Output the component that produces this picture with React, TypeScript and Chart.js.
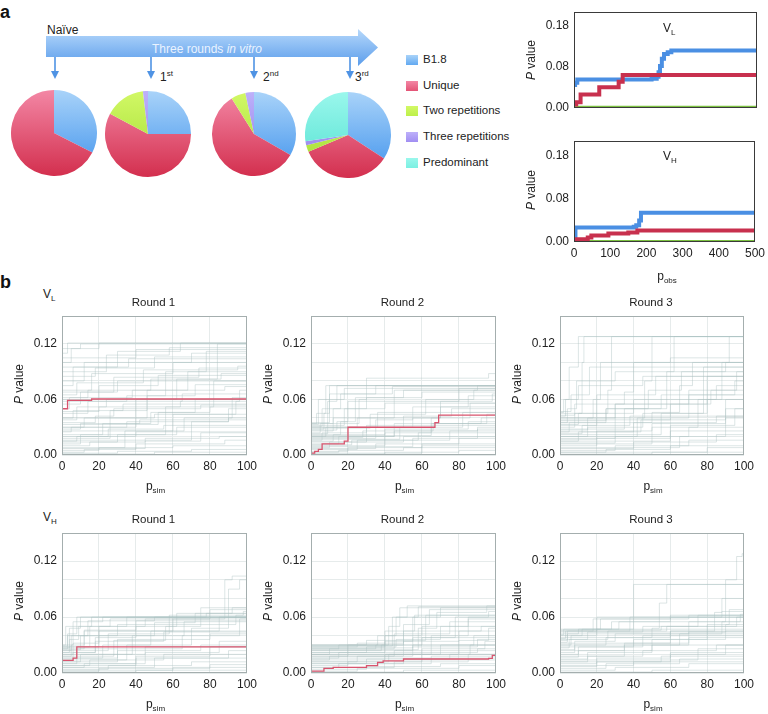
import React, { useEffect, useRef } from "react";
import { Chart, registerables } from "chart.js";
Chart.register(...registerables);

const FONT = '"Liberation Sans", Arial, Helvetica, sans-serif';

// ---------- Panel a: pies ----------
const pieCategories = ["B1.8", "Unique", "Two repetitions", "Three repetitions", "Predominant"];
const pieNaive = [32.5, 67.5, 0, 0, 0];
const pieRound1 = [25, 57.8, 15.3, 1.9, 0];
const pieRound2 = [33.3, 57.8, 5.6, 3.3, 0];
const pieRound3 = [34.2, 34.4, 2.6, 1.5, 27.3];
const pieTop = ["#a9d3f9", "#f387a5", "#d2f866", "#bdb0fa", "#9af7ec"];
const pieBottom = ["#3f92ec", "#d32f4e", "#a0dc30", "#8c7ae8", "#4fe0d0"];
const legendSwatch = ["#62a9f1", "#e45476", "#bdf04a", "#a18ef2", "#7bf0e2"];

// ---------- Panel a: observed P value vs p_obs ----------
const aYTickValues = [0, 0.09, 0.18];
const aYTickLabels = ["0.00", "0.08", "0.18"];
const aXTicks = [0, 100, 200, 300, 400, 500];
// flattened [x, y, x, y, ...] step breakpoints
const obsVL_B18 = [0, 0.05, 3, 0.055, 9, 0.062, 212, 0.064, 226, 0.068, 231, 0.078, 235, 0.092, 240, 0.108, 246, 0.118, 256, 0.122, 266, 0.126];
const obsVL_Unique = [0, 0.007, 6, 0.012, 18, 0.029, 69, 0.045, 122, 0.057, 133, 0.072];
const obsVL_Two = [0, 0.001];
const obsVH_B18 = [0, 0.012, 4, 0.03, 165, 0.032, 172, 0.035, 180, 0.045, 185, 0.061];
const obsVH_Unique = [0, 0.0055, 38, 0.0095, 48, 0.0135, 95, 0.0176, 150, 0.02, 175, 0.024];
const obsVH_Two = [0, 0.001];

// ---------- Panel b: simulated (grey) and observed (red) ----------
const bYLabelValues = [0, 0.06, 0.12];
const obsVL_R1 = [0, 0.05, 3, 0.059, 16, 0.0605];
const obsVL_R2 = [0, 0.002, 2, 0.004, 4, 0.006, 6, 0.012, 18, 0.015, 20, 0.03, 67, 0.035, 69, 0.043];
const obsVL_R3 = [0, 0.0005];
const obsVH_R1 = [0, 0.0136, 6, 0.016, 8, 0.028];
const obsVH_R2 = [0, 0.002, 7, 0.005, 12, 0.006, 30, 0.008, 36, 0.0115, 39, 0.013, 50, 0.015, 96, 0.0157, 98, 0.019];
const obsVH_R3 = [0, 0.0005];

const simVL_R1 = [
  [0, 0.002, 30, 0.004, 70, 0.006],
  [0, 0.005, 20, 0.008, 60, 0.01],
  [0, 0.01, 15, 0.014, 45, 0.018, 85, 0.02],
  [0, 0.015, 8, 0.02, 40, 0.025],
  [0, 0.02, 25, 0.028, 55, 0.032],
  [0, 0.025, 5, 0.03, 35, 0.036, 90, 0.04],
  [0, 0.03, 12, 0.04, 50, 0.044],
  [0, 0.035, 18, 0.042, 28, 0.05, 75, 0.054],
  [0, 0.04, 6, 0.048, 33, 0.055],
  [0, 0.012, 10, 0.022, 22, 0.034, 48, 0.046, 80, 0.052],
  [0, 0.045, 14, 0.058, 65, 0.066],
  [0, 0.05, 4, 0.062, 38, 0.07, 88, 0.074],
  [0, 0.055, 10, 0.068, 30, 0.08],
  [0, 0.06, 20, 0.075, 52, 0.086],
  [0, 0.065, 8, 0.078, 44, 0.092, 95, 0.096],
  [0, 0.07, 16, 0.088, 60, 0.1],
  [0, 0.075, 6, 0.095, 36, 0.104],
  [0, 0.08, 12, 0.1, 70, 0.11],
  [0, 0.09, 24, 0.108, 58, 0.116],
  [0, 0.1, 5, 0.115, 20, 0.121],
  [0, 0.11, 3, 0.121],
  [0, 0.03, 40, 0.06, 62, 0.082, 84, 0.12],
  [0, 0.018, 26, 0.048, 46, 0.07, 68, 0.09],
  [0, 0.008, 34, 0.026, 66, 0.04, 92, 0.062],
  [0, 0.04, 46, 0.064, 56, 0.09, 78, 0.112],
  [0, 0.022, 56, 0.052, 82, 0.08],
  [0, 0.001, 50, 0.003],
  [0, 0.115, 10, 0.12],
  [0, 0.003, 12, 0.006, 40, 0.012, 88, 0.016],
  [0, 0.007, 45, 0.015, 75, 0.024],
  [0, 0.014, 30, 0.022, 62, 0.03],
  [0, 0.028, 10, 0.034, 42, 0.038],
  [0, 0.033, 52, 0.046, 72, 0.06],
  [0, 0.038, 8, 0.052, 24, 0.06],
  [0, 0.047, 20, 0.052, 64, 0.058, 96, 0.07],
  [0, 0.058, 35, 0.064, 72, 0.076],
  [0, 0.062, 14, 0.07, 48, 0.082, 86, 0.088],
  [0, 0.068, 28, 0.084, 74, 0.094],
  [0, 0.085, 18, 0.094, 50, 0.106],
  [0, 0.095, 30, 0.112, 64, 0.121],
  [0, 0.105, 40, 0.114],
  [0, 0.016, 70, 0.036, 90, 0.05],
  [0, 0.026, 60, 0.044, 94, 0.058],
];
const simVL_R2 = [
  [0, 0.001, 40, 0.003, 80, 0.005],
  [0, 0.004, 20, 0.008, 60, 0.012],
  [0, 0.008, 10, 0.014, 50, 0.02],
  [0, 0.012, 15, 0.02, 45, 0.026, 90, 0.03],
  [0, 0.016, 6, 0.024, 30, 0.032],
  [0, 0.02, 8, 0.03, 25, 0.04, 70, 0.046],
  [0, 0.024, 5, 0.034, 12, 0.05, 40, 0.056],
  [0, 0.028, 7, 0.045, 10, 0.066, 35, 0.075],
  [0, 0.03, 9, 0.058, 14, 0.075],
  [0, 0.032, 18, 0.05, 30, 0.062, 60, 0.068],
  [0, 0.034, 26, 0.06, 30, 0.083, 96, 0.088],
  [0, 0.018, 35, 0.038, 55, 0.052, 85, 0.064],
  [0, 0.01, 40, 0.024, 65, 0.034, 95, 0.044],
  [0, 0.006, 25, 0.016, 75, 0.026],
  [0, 0.026, 12, 0.04, 45, 0.07, 90, 0.075],
  [0, 0.022, 16, 0.036, 20, 0.058, 80, 0.072],
  [0, 0.014, 30, 0.03, 50, 0.042, 76, 0.05],
  [0, 0.033, 4, 0.06, 18, 0.072],
  [0, 0.002, 60, 0.01],
  [0, 0.03, 55, 0.04, 70, 0.058, 98, 0.066],
  [0, 0.02, 45, 0.034, 92, 0.04],
  [0, 0.035, 10, 0.075],
  [0, 0.003, 15, 0.005, 50, 0.008],
  [0, 0.007, 35, 0.012, 80, 0.018],
  [0, 0.011, 22, 0.016, 58, 0.024],
  [0, 0.015, 12, 0.022, 40, 0.028, 85, 0.036],
  [0, 0.019, 28, 0.026, 66, 0.034],
  [0, 0.023, 9, 0.03, 36, 0.046, 70, 0.052],
  [0, 0.027, 14, 0.036, 24, 0.062, 50, 0.07],
  [0, 0.031, 6, 0.05, 16, 0.066, 44, 0.074],
  [0, 0.017, 48, 0.03, 82, 0.046],
  [0, 0.009, 55, 0.018, 90, 0.028],
  [0, 0.029, 32, 0.044, 62, 0.06, 88, 0.07],
  [0, 0.034, 3, 0.045, 8, 0.075],
  [0, 0.021, 65, 0.04, 86, 0.056],
];
const simVL_R3 = [
  [0, 0.001, 50, 0.003],
  [0, 0.005, 30, 0.01, 70, 0.016],
  [0, 0.01, 20, 0.018, 60, 0.026],
  [0, 0.015, 10, 0.025, 40, 0.035, 85, 0.042],
  [0, 0.02, 15, 0.03, 45, 0.045, 80, 0.06],
  [0, 0.025, 5, 0.035, 25, 0.05, 55, 0.065],
  [0, 0.03, 8, 0.045, 12, 0.1, 13, 0.128],
  [0, 0.035, 4, 0.05, 9, 0.08, 30, 0.09],
  [0, 0.04, 18, 0.06, 22, 0.1, 60, 0.105],
  [0, 0.045, 26, 0.07, 28, 0.128],
  [0, 0.02, 42, 0.04, 46, 0.08, 50, 0.128],
  [0, 0.028, 35, 0.05, 58, 0.09, 62, 0.128],
  [0, 0.012, 50, 0.03, 75, 0.06, 88, 0.1, 92, 0.128],
  [0, 0.038, 60, 0.055, 80, 0.085, 100, 0.105],
  [0, 0.008, 65, 0.02, 90, 0.04],
  [0, 0.018, 30, 0.04, 70, 0.065, 95, 0.08],
  [0, 0.032, 20, 0.045, 40, 0.06, 85, 0.075],
  [0, 0.042, 3, 0.06, 10, 0.075, 45, 0.085],
  [0, 0.047, 6, 0.065, 16, 0.095],
  [0, 0.022, 55, 0.045, 78, 0.095],
  [0, 0.003, 80, 0.008],
  [0, 0.035, 50, 0.046, 65, 0.075, 72, 0.1],
  [0, 0.003, 25, 0.006, 60, 0.01],
  [0, 0.007, 40, 0.014, 85, 0.022],
  [0, 0.013, 30, 0.02, 70, 0.03],
  [0, 0.017, 20, 0.026, 50, 0.034, 90, 0.05],
  [0, 0.023, 12, 0.032, 38, 0.042],
  [0, 0.027, 15, 0.04, 30, 0.055, 70, 0.07],
  [0, 0.033, 10, 0.045, 20, 0.065, 52, 0.085],
  [0, 0.037, 25, 0.05, 48, 0.07, 66, 0.09, 90, 0.1],
  [0, 0.043, 8, 0.055, 35, 0.068, 40, 0.1],
  [0, 0.046, 2, 0.06, 5, 0.095, 10, 0.128],
  [0, 0.04, 30, 0.055, 82, 0.07, 96, 0.09],
  [0, 0.015, 60, 0.032, 95, 0.05],
  [0, 0.025, 44, 0.038, 90, 0.06],
];
const simVH_R1 = [
  [0, 0.001, 40, 0.003],
  [0, 0.004, 25, 0.008, 70, 0.012],
  [0, 0.008, 15, 0.014, 55, 0.02],
  [0, 0.012, 10, 0.02, 45, 0.028],
  [0, 0.016, 8, 0.026, 30, 0.036, 80, 0.042],
  [0, 0.02, 6, 0.032, 20, 0.045],
  [0, 0.024, 5, 0.04, 14, 0.056, 50, 0.06],
  [0, 0.027, 4, 0.048, 10, 0.06],
  [0, 0.03, 6, 0.055, 22, 0.06],
  [0, 0.022, 18, 0.038, 40, 0.05, 62, 0.064],
  [0, 0.018, 28, 0.035, 56, 0.05, 75, 0.07],
  [0, 0.026, 12, 0.045, 60, 0.058, 88, 0.1, 92, 0.104],
  [0, 0.014, 35, 0.03, 70, 0.048, 90, 0.09, 96, 0.1],
  [0, 0.01, 45, 0.022, 85, 0.034],
  [0, 0.028, 20, 0.05, 45, 0.058, 80, 0.068],
  [0, 0.006, 50, 0.016, 90, 0.024],
  [0, 0.02, 38, 0.04, 66, 0.055],
  [0, 0.029, 3, 0.04, 30, 0.052, 94, 0.062],
  [0, 0.024, 25, 0.042, 58, 0.062, 98, 0.066],
  [0, 0.003, 60, 0.006],
  [0, 0.002, 20, 0.005, 80, 0.009],
  [0, 0.006, 12, 0.01, 40, 0.016],
  [0, 0.01, 8, 0.016, 30, 0.024, 75, 0.03],
  [0, 0.014, 6, 0.022, 18, 0.034, 55, 0.044],
  [0, 0.018, 5, 0.03, 12, 0.046, 40, 0.056],
  [0, 0.022, 4, 0.036, 9, 0.05, 26, 0.058],
  [0, 0.026, 3, 0.042, 8, 0.06],
  [0, 0.028, 15, 0.05, 35, 0.06, 78, 0.064],
  [0, 0.03, 2, 0.05, 16, 0.06],
  [0, 0.016, 22, 0.03, 48, 0.045, 85, 0.06],
  [0, 0.012, 30, 0.026, 65, 0.04, 96, 0.058],
  [0, 0.008, 40, 0.018, 80, 0.028],
  [0, 0.025, 10, 0.04, 50, 0.054, 72, 0.064, 92, 0.07],
];
const simVH_R2 = [
  [0, 0.001, 50, 0.003],
  [0, 0.004, 30, 0.007, 70, 0.01],
  [0, 0.008, 20, 0.012, 60, 0.016],
  [0, 0.012, 25, 0.018, 50, 0.022, 90, 0.026],
  [0, 0.016, 15, 0.022, 40, 0.03],
  [0, 0.02, 10, 0.026, 35, 0.03, 60, 0.038],
  [0, 0.024, 20, 0.03, 42, 0.05, 48, 0.07],
  [0, 0.028, 40, 0.034, 55, 0.06, 70, 0.07],
  [0, 0.03, 36, 0.04, 60, 0.05, 85, 0.06],
  [0, 0.026, 45, 0.042, 75, 0.055],
  [0, 0.022, 50, 0.034, 80, 0.045],
  [0, 0.018, 55, 0.028, 90, 0.036],
  [0, 0.014, 40, 0.02, 70, 0.03],
  [0, 0.029, 44, 0.06, 52, 0.072],
  [0, 0.025, 58, 0.048, 68, 0.065, 95, 0.072],
  [0, 0.01, 65, 0.018],
  [0, 0.02, 80, 0.035, 96, 0.048],
  [0, 0.006, 45, 0.012, 85, 0.02],
  [0, 0.03, 30, 0.035, 62, 0.062],
  [0, 0.024, 38, 0.03, 50, 0.045, 92, 0.05],
  [0, 0.002, 25, 0.005, 80, 0.008],
  [0, 0.006, 15, 0.01, 50, 0.014],
  [0, 0.01, 30, 0.015, 75, 0.02],
  [0, 0.014, 10, 0.018, 45, 0.024],
  [0, 0.018, 20, 0.024, 55, 0.03, 88, 0.04],
  [0, 0.022, 30, 0.028, 46, 0.036, 70, 0.05],
  [0, 0.026, 15, 0.03, 40, 0.045, 56, 0.062],
  [0, 0.028, 25, 0.032, 50, 0.052, 64, 0.068],
  [0, 0.03, 40, 0.04, 46, 0.06, 58, 0.071],
  [0, 0.016, 60, 0.026, 94, 0.034],
  [0, 0.012, 42, 0.02, 86, 0.03],
  [0, 0.02, 65, 0.04, 85, 0.058],
  [0, 0.027, 55, 0.038, 78, 0.06, 96, 0.066],
];
const simVH_R3 = [
  [0, 0.001, 50, 0.003],
  [0, 0.005, 25, 0.01, 65, 0.015],
  [0, 0.01, 20, 0.016, 60, 0.022],
  [0, 0.015, 15, 0.022, 50, 0.03],
  [0, 0.02, 10, 0.028, 40, 0.036, 80, 0.04],
  [0, 0.025, 8, 0.034, 30, 0.042],
  [0, 0.03, 6, 0.04, 20, 0.047],
  [0, 0.035, 4, 0.045, 18, 0.058, 60, 0.062],
  [0, 0.04, 12, 0.047, 40, 0.06, 88, 0.066],
  [0, 0.045, 38, 0.06, 40, 0.095],
  [0, 0.038, 50, 0.048, 54, 0.075, 58, 0.095],
  [0, 0.032, 60, 0.045, 84, 0.065, 88, 0.08],
  [0, 0.042, 70, 0.055, 90, 0.1, 96, 0.125, 99, 0.128],
  [0, 0.028, 45, 0.04, 80, 0.052, 92, 0.068],
  [0, 0.018, 35, 0.03, 70, 0.044],
  [0, 0.012, 60, 0.02, 90, 0.03],
  [0, 0.047, 22, 0.058, 70, 0.062],
  [0, 0.008, 40, 0.012],
  [0, 0.036, 26, 0.045, 58, 0.05, 96, 0.06],
  [0, 0.044, 90, 0.052],
  [0, 0.003, 30, 0.006, 70, 0.01],
  [0, 0.007, 20, 0.012, 55, 0.018],
  [0, 0.012, 15, 0.018, 45, 0.024, 85, 0.03],
  [0, 0.017, 10, 0.024, 35, 0.032, 70, 0.038],
  [0, 0.022, 8, 0.03, 25, 0.038, 60, 0.045],
  [0, 0.027, 5, 0.036, 15, 0.044, 45, 0.05],
  [0, 0.033, 4, 0.042, 10, 0.047, 32, 0.055],
  [0, 0.037, 3, 0.045, 20, 0.06],
  [0, 0.041, 2, 0.047, 28, 0.055, 60, 0.06],
  [0, 0.046, 55, 0.05, 75, 0.062],
  [0, 0.024, 50, 0.036, 90, 0.045],
  [0, 0.03, 65, 0.042, 88, 0.055, 98, 0.063],
  [0, 0.014, 75, 0.026],
];

// ---------- helpers ----------
const YW = 44;
const PADT = 8;
const PADR = 12;
const XH = 20;

function steps(seg: number[], xMax: number) {
  const pts: { x: number; y: number }[] = [];
  for (let i = 0; i < seg.length; i += 2) pts.push({ x: seg[i], y: seg[i + 1] });
  pts.push({ x: xMax, y: seg[seg.length - 1] });
  return pts;
}

const framePlugin = {
  id: "frame",
  afterDraw(chart: any, _args: any, opts: any) {
    const { ctx, chartArea: a } = chart;
    ctx.save();
    ctx.strokeStyle = opts.color || "#444";
    ctx.lineWidth = 1;
    ctx.strokeRect(Math.round(a.left) + 0.5, Math.round(a.top) + 0.5, Math.round(a.width) - 1, Math.round(a.height) - 1);
    ctx.restore();
  },
};

function pieFill(c: any) {
  const i = c.dataIndex ?? 0;
  const chart = c.chart;
  const area = chart.chartArea;
  if (!area) return pieBottom[i];
  const g = chart.ctx.createLinearGradient(0, area.top, 0, area.bottom);
  g.addColorStop(0, pieTop[i]);
  g.addColorStop(1, pieBottom[i]);
  return g;
}

function pieConfig(values: number[]) {
  return {
    type: "pie",
    data: {
      labels: pieCategories,
      datasets: [{ data: values, backgroundColor: pieFill, borderWidth: 0 }],
    },
    options: {
      animation: false,
      responsive: false,
      events: [],
      layout: { padding: 0 },
      plugins: { legend: { display: false }, tooltip: { enabled: false } },
    },
  };
}

const tickFont = { family: FONT, size: 12 };
const SIM_GREY = "rgba(172,194,194,0.42)";

function bConfig(gray: number[][], red: number[]) {
  return {
    type: "line",
    data: {
      datasets: [
        { data: steps(red, 100), borderColor: "#d9546e", borderWidth: 1.3, stepped: true, pointRadius: 0, fill: false },
        ...gray.map((g) => ({
          data: steps(g, 100),
          borderColor: SIM_GREY,
          borderWidth: 1,
          stepped: true,
          pointRadius: 0,
          fill: false,
        })),
      ],
    },
    options: {
      animation: false,
      responsive: false,
      events: [],
      layout: { padding: { top: PADT, right: PADR, bottom: 0, left: 0 } },
      plugins: { legend: { display: false }, tooltip: { enabled: false }, frame: { color: "#a4aeae" } },
      scales: {
        x: {
          type: "linear",
          min: 0,
          max: 100,
          ticks: { stepSize: 20, color: "#222", font: tickFont, padding: 4, maxRotation: 0, autoSkip: false },
          grid: { color: "#e6ebeb", drawTicks: false },
          border: { display: false },
          afterFit: (s: any) => {
            s.height = XH;
          },
        },
        y: {
          type: "linear",
          min: 0,
          max: 0.15,
          ticks: {
            stepSize: 0.02,
            color: "#222",
            font: tickFont,
            padding: 5,
            autoSkip: false,
            callback: (v: number) => (bYLabelValues.some((t) => Math.abs(t - v) < 1e-6) ? Number(v).toFixed(2) : ""),
          },
          grid: { color: "#e6ebeb", drawTicks: false },
          border: { display: false },
          afterFit: (s: any) => {
            s.width = YW;
          },
        },
      },
    },
    plugins: [framePlugin],
  };
}

function aConfig(b18: number[], unique: number[], two: number[], showX: boolean) {
  const ds = (seg: number[], color: string, w: number) => ({
    data: steps(seg, 500),
    borderColor: color,
    borderWidth: w,
    stepped: true,
    pointRadius: 0,
    fill: false,
    borderCapStyle: "butt",
  });
  return {
    type: "line",
    data: {
      datasets: [ds(unique, "#c8304e", 4), ds(b18, "#4a8fe3", 4), ds(two, "#7dc242", 3)],
    },
    options: {
      animation: false,
      responsive: false,
      events: [],
      layout: { padding: { top: PADT, right: PADR, bottom: 0, left: 0 } },
      plugins: { legend: { display: false }, tooltip: { enabled: false }, frame: { color: "#3a3a3a" } },
      scales: {
        x: {
          type: "linear",
          min: 0,
          max: 500,
          afterBuildTicks: (s: any) => {
            s.ticks = aXTicks.map((v) => ({ value: v }));
          },
          ticks: { display: showX, color: "#222", font: tickFont, padding: 4, maxRotation: 0, autoSkip: false },
          grid: { display: false, drawTicks: false },
          border: { display: false },
          afterFit: (s: any) => {
            s.height = showX ? XH : 8;
          },
        },
        y: {
          type: "linear",
          min: 0,
          max: 0.21,
          afterBuildTicks: (s: any) => {
            s.ticks = aYTickValues.map((v) => ({ value: v }));
          },
          ticks: {
            color: "#222",
            font: tickFont,
            padding: 5,
            autoSkip: false,
            callback: (_v: number, i: number) => aYTickLabels[i],
          },
          grid: { display: false, drawTicks: false },
          border: { display: false },
          afterFit: (s: any) => {
            s.width = YW;
          },
        },
      },
    },
    plugins: [framePlugin],
  };
}

function ChartBox(props: { left: number; top: number; width: number; height: number; make: () => any }) {
  const ref = useRef<HTMLCanvasElement>(null);
  useEffect(() => {
    const chart = new Chart(ref.current as HTMLCanvasElement, props.make());
    return () => chart.destroy();
  }, []);
  return (
    <canvas
      ref={ref}
      width={props.width}
      height={props.height}
      style={{ position: "absolute", left: props.left, top: props.top, width: props.width, height: props.height }}
    />
  );
}

function LineBox(props: { areaLeft: number; areaTop: number; areaW: number; areaH: number; xh: number; make: () => any }) {
  const left = props.areaLeft - YW;
  const top = props.areaTop - PADT;
  const width = YW + props.areaW + PADR;
  const height = PADT + props.areaH + props.xh;
  return <ChartBox left={left} top={top} width={width} height={height} make={props.make} />;
}

function Txt(props: { x: number; y: number; size?: number; anchor?: "c" | "l"; rot?: boolean; style?: any; children: any }) {
  const { x, y, size = 12, anchor = "c", rot = false, style = {} } = props;
  let tr = anchor === "c" ? "translate(-50%,-50%)" : "translate(0,-50%)";
  if (rot) tr += " rotate(-90deg)";
  return (
    <div
      style={{
        position: "absolute",
        left: x,
        top: y,
        transform: tr,
        fontSize: size,
        lineHeight: 1,
        whiteSpace: "nowrap",
        color: "#222",
        fontFamily: FONT,
        ...style,
      }}
    >
      {props.children}
    </div>
  );
}

const Sub = (p: { children: any; size?: number }) => (
  <span style={{ fontSize: p.size || 8, position: "relative", top: 3 }}>{p.children}</span>
);
const Sup = (p: { children: any }) => <span style={{ fontSize: 8, position: "relative", top: -5 }}>{p.children}</span>;

const PV = () => (
  <>
    <i>P</i> value
  </>
);

const bCols = [
  { left: 62, w: 187 },
  { left: 311, w: 187 },
  { left: 560, w: 186 },
];
const bRows = [
  { top: 312, h: 143 },
  { top: 529, h: 144 },
];
const bSim = [
  [simVL_R1, simVL_R2, simVL_R3],
  [simVH_R1, simVH_R2, simVH_R3],
];
const bObs = [
  [obsVL_R1, obsVL_R2, obsVL_R3],
  [obsVH_R1, obsVH_R2, obsVH_R3],
];
const roundTitles = ["Round 1", "Round 2", "Round 3"];

const pies = [
  { cx: 54, cy: 133, r: 43, v: pieNaive },
  { cx: 148, cy: 134, r: 43, v: pieRound1 },
  { cx: 254, cy: 134, r: 42, v: pieRound2 },
  { cx: 348, cy: 135, r: 43, v: pieRound3 },
];
const downArrowsX = [55, 151, 254, 350];

export default function App() {
  return (
    <div
      style={{
        position: "absolute",
        left: 0,
        top: 0,
        width: 768,
        height: 714,
        background: "#fff",
        fontFamily: FONT,
        overflow: "hidden",
      }}
    >
      {/* panel a header */}
      <Txt x={0} y={12} size={18} anchor="l" style={{ fontWeight: "bold", color: "#111" }}>
        a
      </Txt>
      <Txt x={47} y={30} size={12} anchor="l">
        Naïve
      </Txt>
      <svg width={400} height={90} style={{ position: "absolute", left: 0, top: 0 }}>
        <defs>
          <linearGradient id="arrowGrad" x1="0" y1="0" x2="0" y2="1">
            <stop offset="0" stopColor="#b6d8fb" />
            <stop offset="1" stopColor="#5b9deb" />
          </linearGradient>
        </defs>
        <polygon points="46,36 358,36 358,29 378,47.5 358,66 358,57 46,57" fill="url(#arrowGrad)" />
        {downArrowsX.map((x) => (
          <g key={x}>
            <line x1={x} y1={57} x2={x} y2={76} stroke="#4f93e4" strokeWidth={1.6} />
            <polygon points={`${x - 4},71 ${x + 4},71 ${x},79`} fill="#4f93e4" />
          </g>
        ))}
      </svg>
      <Txt x={207} y={49} size={12} style={{ color: "#eaf3ff" }}>
        Three rounds <i>in vitro</i>
      </Txt>
      <Txt x={160} y={77} size={12} anchor="l">
        1<Sup>st</Sup>
      </Txt>
      <Txt x={263} y={77} size={12} anchor="l">
        2<Sup>nd</Sup>
      </Txt>
      <Txt x={355} y={77} size={12} anchor="l">
        3<Sup>rd</Sup>
      </Txt>

      {pies.map((p, i) => (
        <ChartBox key={i} left={p.cx - p.r} top={p.cy - p.r} width={p.r * 2} height={p.r * 2} make={() => pieConfig(p.v)} />
      ))}

      {/* legend */}
      {pieCategories.map((c, i) => (
        <React.Fragment key={c}>
          <div
            style={{
              position: "absolute",
              left: 406,
              top: 60 + i * 25.7 - 5,
              width: 12,
              height: 10,
              background: `linear-gradient(${pieTop[i]}, ${legendSwatch[i]})`,
            }}
          />
          <Txt x={423} y={60 + i * 25.7} size={11.5} anchor="l">
            {c}
          </Txt>
        </React.Fragment>
      ))}

      {/* panel a right: observed */}
      <LineBox areaLeft={574} areaTop={8} areaW={183} areaH={104} xh={8} make={() => aConfig(obsVL_B18, obsVL_Unique, obsVL_Two, false)} />
      <LineBox areaLeft={574} areaTop={137} areaW={183} areaH={105} xh={XH} make={() => aConfig(obsVH_B18, obsVH_Unique, obsVH_Two, true)} />
      <Txt x={531} y={60} size={12} rot>
        <PV />
      </Txt>
      <Txt x={531} y={190} size={12} rot>
        <PV />
      </Txt>
      <Txt x={663} y={28} size={12} anchor="l">
        V<Sub>L</Sub>
      </Txt>
      <Txt x={663} y={156} size={12} anchor="l">
        V<Sub>H</Sub>
      </Txt>
      <Txt x={667} y={276} size={12}>
        p<Sub>obs</Sub>
      </Txt>

      {/* panel b */}
      <Txt x={0} y={282} size={18} anchor="l" style={{ fontWeight: "bold", color: "#111" }}>
        b
      </Txt>
      <Txt x={43} y={294} size={12} anchor="l">
        V<Sub>L</Sub>
      </Txt>
      <Txt x={43} y={517} size={12} anchor="l">
        V<Sub>H</Sub>
      </Txt>
      {bRows.map((row, ri) =>
        bCols.map((col, ci) => (
          <React.Fragment key={`${ri}-${ci}`}>
            <LineBox
              areaLeft={col.left}
              areaTop={row.top}
              areaW={col.w}
              areaH={row.h}
              xh={XH}
              make={() => bConfig(bSim[ri][ci], bObs[ri][ci])}
            />
            <Txt x={col.left + col.w / 2 - 2} y={row.top - 9} size={11.5}>
              {roundTitles[ci]}
            </Txt>
            <Txt x={col.left - 43} y={row.top + row.h / 2} size={12} rot>
              <PV />
            </Txt>
            <Txt x={col.left + col.w / 2} y={row.top + row.h + 31} size={12}>
              p<Sub>sim</Sub>
            </Txt>
          </React.Fragment>
        ))
      )}
    </div>
  );
}
